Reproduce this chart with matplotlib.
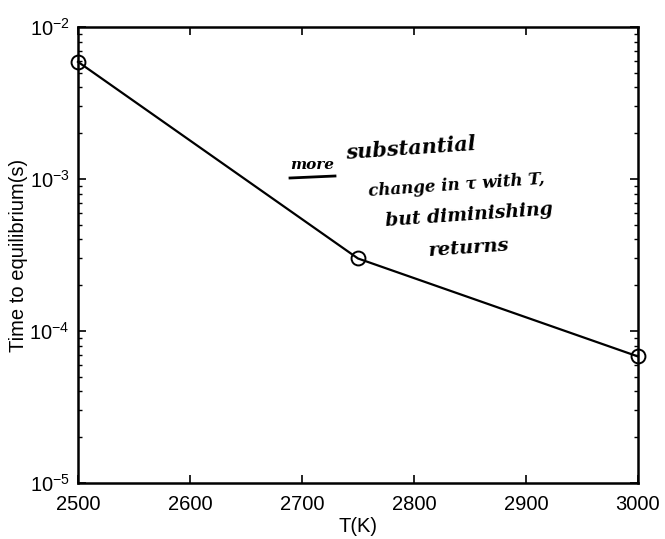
import matplotlib
matplotlib.use('Agg')
from matplotlib import pyplot as plt
import numpy as np

# temperature vs time to equilibrium
temps = [2500, 2750, 3000]
t_eq = [5.9e-3, 3.0e-4, 6.8e-5]

note_lines = ['substantial', 'change in \u03c4 with T,', 'but diminishing', 'returns']

plt.rcParams['font.family'] = ['Liberation Sans', 'DejaVu Sans']

fig = plt.figure(figsize=(6.65, 5.39), dpi=100)
ax = fig.add_axes([0.1173, 0.1039, 0.842, 0.846])

ax.plot(temps, t_eq, color='black', linewidth=1.6, marker='o', markersize=10,
        markerfacecolor='none', markeredgewidth=1.4, clip_on=False, zorder=5)

ax.set_yscale('log')
ax.set_xlim(2500, 3000)
ax.set_ylim(1e-5, 1e-2)
ax.set_xticks([2500, 2600, 2700, 2800, 2900, 3000])
ax.tick_params(which='both', direction='in', top=True, right=True, labelsize=14.5)
ax.tick_params(which='major', length=6, width=1.2)
ax.tick_params(which='minor', length=3, width=1)
ax.tick_params(axis='x', pad=9)
ax.tick_params(axis='y', pad=6)
for s in ax.spines.values():
    s.set_linewidth(1.8)

ax.set_xlabel('T(K)', fontsize=14.5, labelpad=2)
ax.set_ylabel('Time to equilibrium(s)', fontsize=14.5, labelpad=1)

# handwritten note
hand = dict(family=['DejaVu Serif'], style='italic', fontweight='bold', color='black')
fig.text(290 / 665, 1 - 165 / 539, 'more', va='center', ha='left', fontsize=11, **hand)
fig.add_artist(plt.Line2D([290 / 665, 335 / 665], [1 - 178 / 539, 1 - 176 / 539],
                          color='black', linewidth=2))
ys = [148, 185, 215, 248]
xs = [345, 368, 385, 428]
sizes = [15, 12, 13.5, 14]
for line, x, y, fs in zip(note_lines, xs, ys, sizes):
    fig.text(x / 665, 1 - y / 539, line, va='center', ha='left', rotation=4, fontsize=fs, **hand)

fig.savefig('out.png', dpi=100)
